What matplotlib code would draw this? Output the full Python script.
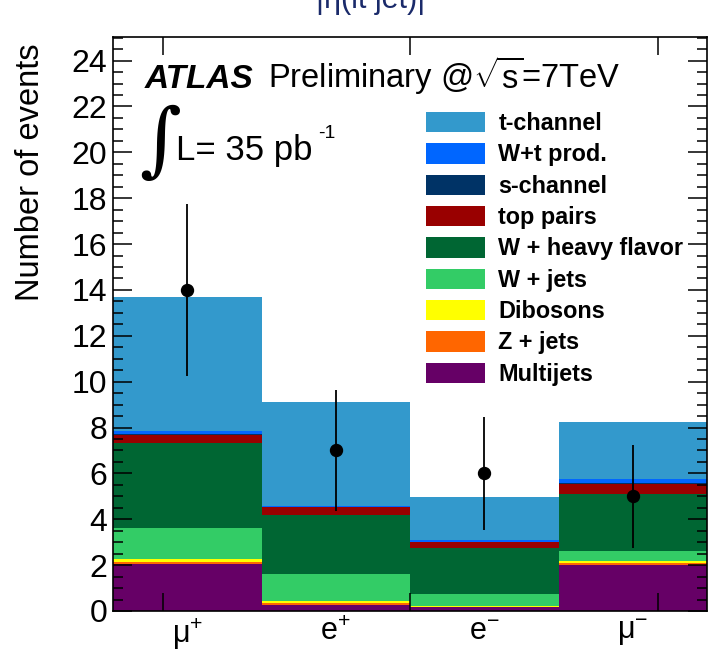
import numpy as np
import matplotlib
matplotlib.use("Agg")
import matplotlib.pyplot as plt
from matplotlib.ticker import MultipleLocator, FixedLocator

plt.rcParams['font.family'] = ['Liberation Sans', 'DejaVu Sans']
plt.rcParams['mathtext.fontset'] = 'custom'
plt.rcParams['mathtext.rm'] = 'Liberation Sans'
plt.rcParams['mathtext.it'] = 'Liberation Sans:italic'
plt.rcParams['mathtext.bf'] = 'Liberation Sans:bold'

# ---------------- data ----------------
channels = [r'$\mathregular{\mu^{+}}$', r'$\mathregular{e^{+}}$',
            r'$\mathregular{e^{-}}$', r'$\mathregular{\mu^{-}}$']

# stacked backgrounds / signal, bottom to top
multijets   = [2.05, 0.27, 0.18, 2.02]
z_jets      = [0.10, 0.07, 0.01, 0.08]
dibosons    = [0.10, 0.08, 0.01, 0.09]
w_jets      = [1.37, 1.19, 0.54, 0.41]
w_heavy     = [3.69, 2.58, 2.01, 2.50]
top_pairs   = [0.38, 0.33, 0.24, 0.44]
s_channel   = [0.05, 0.03, 0.04, 0.06]
wt_prod     = [0.10, 0.05, 0.07, 0.14]
t_channel   = [5.85, 4.50, 1.86, 2.49]

data_counts = [14, 7, 6, 5]
data_errors = [3.74, 2.65, 2.45, 2.24]

components = [
    ("Multijets", multijets, "#660066"),
    ("Z + jets", z_jets, "#FF6600"),
    ("Dibosons", dibosons, "#FFFF00"),
    ("W + jets", w_jets, "#33CC66"),
    ("W + heavy flavor", w_heavy, "#006633"),
    ("top pairs", top_pairs, "#990000"),
    ("s-channel", s_channel, "#003366"),
    ("W+t prod.", wt_prod, "#0066FF"),
    ("t-channel", t_channel, "#3399CC"),
]

# ---------------- figure ----------------
fig = plt.figure(figsize=(7.17, 6.51), dpi=100)
ax = fig.add_axes([113/717, 1-611/651, (707-113)/717, (611-37)/651])

x = np.arange(len(channels)) + 0.5
bottom = np.zeros(len(channels))
handles = {}
for name, vals, col in components:
    vals = np.array(vals)
    b = ax.bar(x, vals, width=1.0, bottom=bottom, color=col, linewidth=0,
               label=name, align='center')
    handles[name] = b
    bottom = bottom + vals

ax.errorbar(x, data_counts, yerr=data_errors, fmt='o', color='black',
            markersize=8.6, elinewidth=1.3, capsize=0, zorder=5)

ax.set_xlim(0, len(channels))
ax.set_ylim(0, 25.03)

# ticks
ax.xaxis.set_major_locator(FixedLocator([1/3, 2.0, 11/3]))
ax.set_xticklabels([])
for xi, lab in zip(x, channels):
    ax.text(xi, -0.25, lab, ha='center', va='top', fontsize=22,
            transform=ax.transData)
ax.yaxis.set_major_locator(MultipleLocator(2))
ax.yaxis.set_minor_locator(MultipleLocator(0.5))
ax.tick_params(axis='x', which='major', direction='in', length=13, width=1.1,
               top=True, bottom=True)
ax.tick_params(axis='y', which='major', direction='in', length=13.5, width=1.1,
               left=True, right=True, labelsize=23, pad=4)
ax.tick_params(axis='y', which='minor', direction='in', length=7, width=1.1,
               left=True, right=True)
for sp in ax.spines.values():
    sp.set_linewidth(1.2)

ax.set_ylabel("Number of events", fontsize=23.5)
ax.yaxis.set_label_coords((46-113)/594, (611-172)/574)

# legend (reverse order: t-channel on top)
order = [c[0] for c in components][::-1]
leg = ax.legend([handles[n] for n in order], order, loc='upper left',
                bbox_to_anchor=((426-113)/594, (611-112)/574),
                frameon=False, handlelength=2.53,
                handleheight=0.96, labelspacing=0.35, handletextpad=0.57,
                borderpad=0, borderaxespad=0,
                prop={'weight': 'bold', 'size': 16.8})

# ATLAS label
ax.text((145-113)/594, (611-88)/574, "ATLAS", transform=ax.transAxes,
        fontsize=24, fontweight='bold', fontstyle='italic', va='baseline')
ax.text((268-113)/594, (611-88)/574,
        r"Preliminary @$\mathregular{\sqrt{s}}$=7TeV",
        transform=ax.transAxes, fontsize=23.5, va='baseline')
ax.text((139-113)/594, (611-144)/574, "\u222b", transform=ax.transAxes,
        fontsize=58, va='center', family=['DejaVu Serif'])
ax.text((176-113)/594, (611-160)/574, "L= 35 pb", transform=ax.transAxes,
        fontsize=25, va='baseline')
ax.text((318-113)/594, (611-125)/574, "-1", transform=ax.transAxes,
        fontsize=14, va='top')

# clipped remnant of slide text above
fig.text(316/717, 1.0, "|\u03b7(lt jet)|", fontsize=22, color='#1a2a6a',
         va='center', ha='left')

fig.savefig("out.png", dpi=100)
